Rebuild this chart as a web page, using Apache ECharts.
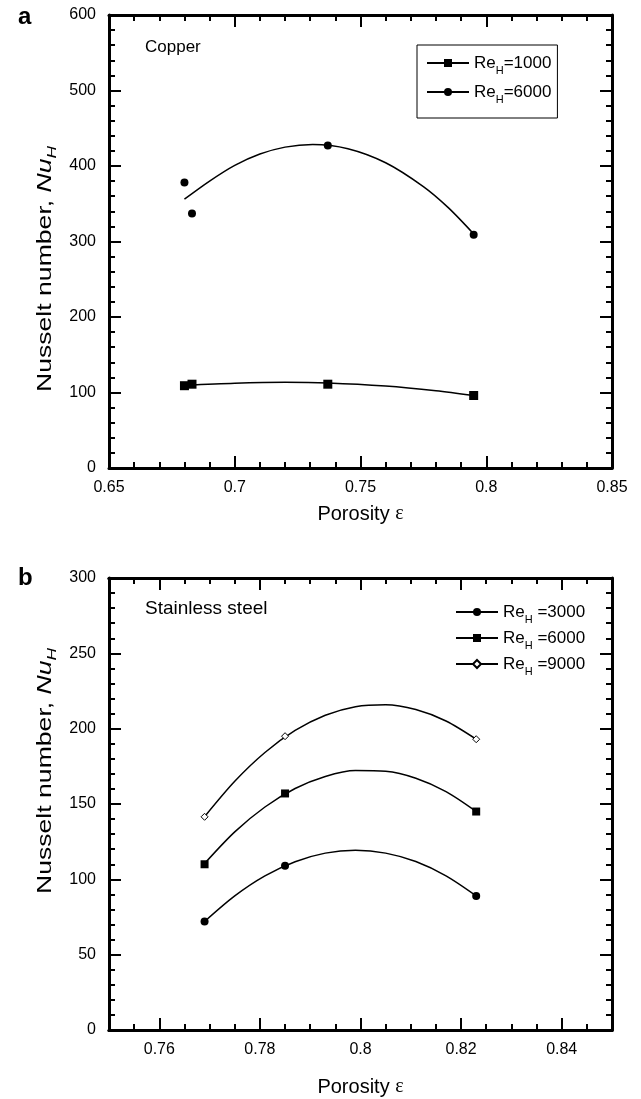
<!DOCTYPE html>
<html><head><meta charset="utf-8">
<script src="https://cdn.jsdelivr.net/npm/echarts@6/dist/echarts.min.js"></script>
<style>html,body{margin:0;padding:0;background:#fff}#c{width:641px;height:1099px}</style>
</head><body><div id="c"></div>
<script>
// ---------- Panel a : Copper ----------
const porosityA = [0.680, 0.683, 0.737, 0.795];
const nuA_Re1000 = [109, 111, 111, 96];
const nuA_Re6000 = [378, 337, 427, 309];
// fitted curves
const fitA1000_x = [0.680, 0.700, 0.720, 0.737, 0.760, 0.780, 0.795];
const fitA1000_y = [109.5, 112.3, 113.5, 112.6, 108.5, 102.3, 96];
const fitA6000_x = [0.680, 0.690, 0.700, 0.710, 0.720, 0.731, 0.745, 0.760, 0.775, 0.785, 0.795];
const fitA6000_y = [356, 380, 400.8, 415.8, 425, 428.5, 422.9, 404.3, 372.7, 344.5, 310];
const legendA = ['Re{s|H}=1000', 'Re{s|H}=6000'];

// ---------- Panel b : Stainless steel ----------
const porosityB = [0.769, 0.785, 0.823];
const nuB_Re3000 = [72, 109, 89];
const nuB_Re6000 = [110, 157, 145];
const nuB_Re9000 = [141.5, 195, 193];
const fitB_x = [0.769, 0.775, 0.781, 0.787, 0.793, 0.799, 0.805, 0.811, 0.817, 0.823];
const fitB_Re3000 = [72, 89, 102.3, 111.7, 117.4, 119.3, 117.4, 111.8, 102.3, 89];
const fitB_Re6000 = [110.5, 131.5, 148, 160.3, 168.3, 172.2, 171.7, 167.1, 158.2, 145];
const fitB_Re9000 = [141.6, 165.1, 184.2, 198.8, 208.9, 214.6, 215.9, 212.7, 205.1, 193];
const legendB = ['Re{s|H} =3000', 'Re{s|H} =6000', 'Re{s|H} =9000'];

const FONT = '"Liberation Sans", Arial, Helvetica, sans-serif';
const zip = (xs, ys) => xs.map((x, i) => [x, ys[i]]);

const axisLine = {show: true, onZero: false, lineStyle: {color: '#000', width: 3}};
const tickStyle = {color: '#000', width: 2};
const labelStyle = {color: '#000', fontSize: 16, fontFamily: FONT};
const fmtNum = v => String(+(+v).toFixed(4));

const xName = 'Porosity {e|ε}';
const xNameStyle = {fontSize: 20, color: '#000', fontFamily: FONT,
  rich: {e: {fontSize: 20, fontFamily: '"Liberation Serif", "DejaVu Serif", serif', color: '#000'}}};

function xAx(grid, pos, min, max, opts) {
  return Object.assign({
    gridIndex: grid, type: 'value', position: pos, min: min, max: max,
    axisLine: axisLine, splitLine: {show: false},
    axisTick: {show: true, inside: true, length: 12, lineStyle: tickStyle},
    axisLabel: {show: false}
  }, opts);
}
function yAx(grid, pos, min, max, interval, opts) {
  return Object.assign({
    gridIndex: grid, type: 'value', position: pos, min: min, max: max, interval: interval,
    axisLine: axisLine, splitLine: {show: false},
    axisTick: {show: true, inside: true, length: 12, lineStyle: tickStyle},
    minorTick: {show: true, splitNumber: 5, length: 6, lineStyle: tickStyle},
    axisLabel: {show: false}
  }, opts);
}
const yLabel = Object.assign({show: true, margin: 13}, labelStyle);

const legendText = {
  color: '#000', fontSize: 17, lineHeight: 26, fontFamily: FONT,
  rich: {s: {fontSize: 11, lineHeight: 9, verticalAlign: 'bottom', fontFamily: FONT, color: '#000'}}
};

function markerSeries(name, xi, yi, data, symbol, size, fill) {
  return {
    name: name, type: 'line', xAxisIndex: xi, yAxisIndex: yi, data: data,
    symbol: symbol, symbolSize: size, showSymbol: true, z: 5,
    itemStyle: {color: fill, borderColor: '#000', borderWidth: fill === '#fff' ? 1 : 0},
    lineStyle: {width: 0, opacity: 0}, emphasis: {disabled: true}, animation: false
  };
}
function fitSeries(name, xi, yi, data) {
  return {
    name: name, type: 'line', xAxisIndex: xi, yAxisIndex: yi, data: data,
    smooth: 0.3, symbol: 'none', silent: true, z: 3,
    lineStyle: {color: '#000', width: 1.5}, animation: false
  };
}

const yNameStyle = {
  text: 'Nusselt number, {i|Nu}{s|H}', fontSize: 20, fontFamily: FONT, fill: '#000',
  lineHeight: 28, align: 'center', verticalAlign: 'middle',
  rich: {
    i: {fontStyle: 'italic', fontSize: 20, fontFamily: FONT, fill: '#000'},
    s: {fontStyle: 'italic', fontSize: 13, fontFamily: FONT, fill: '#000', lineHeight: 12, verticalAlign: 'bottom'}
  }
};

const option = {
  animation: false,
  backgroundColor: '#fff',
  grid: [
    {left: 109, top: 15, width: 503, height: 453},
    {left: 109, top: 578, width: 503, height: 452}
  ],
  xAxis: [
    xAx(0, 'bottom', 0.65, 0.85, {
      interval: 0.05,
      minorTick: {show: true, splitNumber: 5, length: 6, lineStyle: tickStyle},
      axisLabel: Object.assign({show: true, margin: 12, formatter: fmtNum}, labelStyle),
      name: xName, nameLocation: 'middle', nameGap: 36, nameTextStyle: xNameStyle
    }),
    xAx(0, 'top', 0.65, 0.85, {
      interval: 0.05,
      minorTick: {show: true, splitNumber: 5, length: 6, lineStyle: tickStyle}
    }),
    xAx(1, 'bottom', 0.75, 0.85, {
      interval: 0.005,
      axisTick: {show: true, inside: true, length: 6, lineStyle: tickStyle},
      name: xName, nameLocation: 'middle', nameGap: 47, nameTextStyle: xNameStyle
    }),
    xAx(1, 'bottom', 0.75, 0.85, {
      splitNumber: 5,
      axisLabel: Object.assign({show: true, margin: 12, formatter: fmtNum,
        showMinLabel: false, showMaxLabel: false}, labelStyle)
    }),
    xAx(1, 'top', 0.75, 0.85, {
      interval: 0.005,
      axisTick: {show: true, inside: true, length: 6, lineStyle: tickStyle}
    }),
    xAx(1, 'top', 0.75, 0.85, {splitNumber: 5})
  ],
  yAxis: [
    yAx(0, 'left', 0, 600, 100, {axisLabel: yLabel}),
    yAx(0, 'right', 0, 600, 100, {}),
    yAx(1, 'left', 0, 300, 50, {axisLabel: yLabel}),
    yAx(1, 'right', 0, 300, 50, {})
  ],
  legend: [
    {
      data: ['a1000', 'a6000'], orient: 'vertical', left: 417, top: 45,
      padding: [5, 6, 13, 9], borderColor: '#000', borderWidth: 1,
      itemWidth: 42, itemHeight: 10, itemGap: 3, selectedMode: false,
      lineStyle: {color: '#000', width: 2, opacity: 1, type: 'solid'},
      textStyle: legendText,
      formatter: n => legendA[['a1000', 'a6000'].indexOf(n)]
    },
    {
      data: ['b3000', 'b6000', 'b9000'], orient: 'vertical', left: 455, top: 599,
      padding: 0, itemWidth: 42, itemHeight: 10, itemGap: 0, selectedMode: false,
      lineStyle: {color: '#000', width: 2, opacity: 1, type: 'solid'},
      textStyle: legendText,
      formatter: n => legendB[['b3000', 'b6000', 'b9000'].indexOf(n)]
    }
  ],
  graphic: [
    {type: 'text', left: 18, top: 5, style: {text: 'a', font: 'bold 24px ' + FONT, fill: '#000'}},
    {type: 'text', left: 18, top: 566, style: {text: 'b', font: 'bold 24px ' + FONT, fill: '#000'}},
    {type: 'text', left: 145, top: 39, style: {text: 'Copper', font: '17px ' + FONT, fill: '#000'}},
    {type: 'text', left: 145, top: 599, style: {text: 'Stainless steel', font: '19px ' + FONT, fill: '#000'}},
    {type: 'text', x: 45, y: 269, rotation: Math.PI / 2, scaleX: 1.33, style: yNameStyle},
    {type: 'text', x: 45, y: 771, rotation: Math.PI / 2, scaleX: 1.33, style: yNameStyle}
  ],
  series: [
    fitSeries('fitA1000', 0, 0, zip(fitA1000_x, fitA1000_y)),
    fitSeries('fitA6000', 0, 0, zip(fitA6000_x, fitA6000_y)),
    markerSeries('a1000', 0, 0, zip(porosityA, nuA_Re1000), 'rect', 9, '#000'),
    markerSeries('a6000', 0, 0, zip(porosityA, nuA_Re6000), 'circle', 8, '#000'),
    fitSeries('fitB3000', 2, 2, zip(fitB_x, fitB_Re3000)),
    fitSeries('fitB6000', 2, 2, zip(fitB_x, fitB_Re6000)),
    fitSeries('fitB9000', 2, 2, zip(fitB_x, fitB_Re9000)),
    markerSeries('b3000', 2, 2, zip(porosityB, nuB_Re3000), 'circle', 8, '#000'),
    markerSeries('b6000', 2, 2, zip(porosityB, nuB_Re6000), 'rect', 8, '#000'),
    markerSeries('b9000', 2, 2, zip(porosityB, nuB_Re9000), 'diamond', 7, '#fff')
  ]
};

const chart = echarts.init(document.getElementById('c'), null, {renderer: 'canvas'});
chart.setOption(option);
</script>
</body></html>
